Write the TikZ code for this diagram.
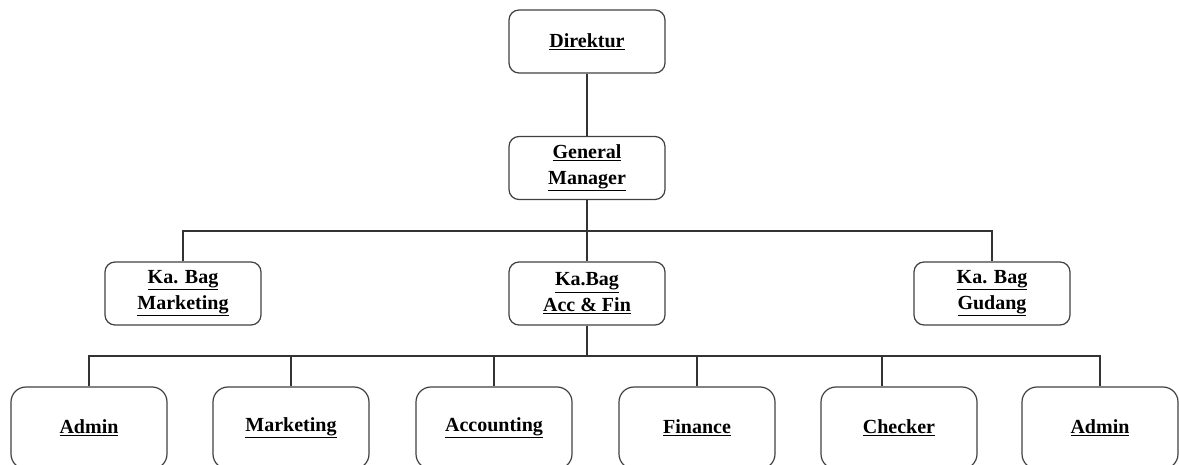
\documentclass[tikz,border=0pt]{standalone}
\usepackage{fontspec}
\setmainfont{Liberation Serif}
\usetikzlibrary{positioning}
\tikzstyle{jabatan}=[rectangle,rounded corners=10pt,draw=black!75,line width=1.2pt,minimum width=156pt,minimum height=63pt,align=center,font=\fontsize{20}{26}\selectfont\bfseries]
\tikzstyle{staf}=[jabatan,rounded corners=15pt,minimum height=82pt]
\tikzstyle{garis}=[draw=black!80,line width=1.3pt]

\begin{document}
\begin{tikzpicture}[x=1pt, y=-1pt]
    \useasboundingbox (0,0) rectangle (1179,465);
    \node[jabatan] (dir) at (587, 41.5) {\underline{Direktur}};
    \node[jabatan] (gm) at (587, 168) {\underline{General}\\\underline{Manager}};
    \node[jabatan] (kbm) at (183, 293.5) {\underline{Ka. Bag}\\\underline{Marketing}};
    \node[jabatan] (kba) at (587, 293.5) {\underline{Ka.Bag}\\\underline{Acc \& Fin}};
    \node[jabatan] (kbg) at (992, 293.5) {\underline{Ka. Bag}\\\underline{Gudang}};
    \foreach \nama/\x/\teks in {adm1/89/Admin, mkt/291/Marketing, acc/494/Accounting, fin/697/Finance, chk/899/Checker, adm2/1100/Admin} {
        \node[staf] (\nama) at (\x, 428) {\underline{\teks}};
    };
    \coordinate (bus1) at (587, 231);
    \coordinate (bus2) at (587, 356);
    \draw[garis] (dir) -- (gm);
    \draw[garis] (gm) -- (bus1);
    \draw[garis] (kbm.north) |- (bus1) -| (kbg.north);
    \draw[garis] (bus1) -- (kba);
    \draw[garis] (kba) -- (bus2);
    \foreach \nama in {adm1, mkt, acc, fin, adm2} {
        \draw[garis] (bus2) -| (\nama.north);
    };
    \draw[garis] (bus2) -| ([xshift=-17pt]chk.north);
\end{tikzpicture}
\end{document}
